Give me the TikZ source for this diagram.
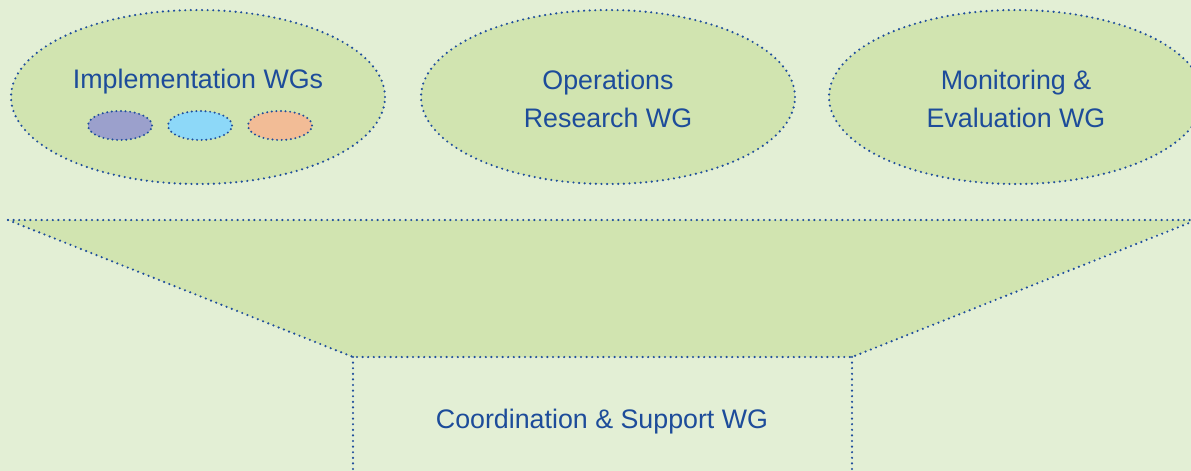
\documentclass[tikz,border=0pt]{standalone}
\usepackage{fontspec}
\setmainfont{Liberation Sans}
\usetikzlibrary{shapes.geometric}
\definecolor{bgcol}{HTML}{E3EFD5}
\definecolor{fillcol}{HTML}{D1E4B0}
\definecolor{dotcol}{HTML}{1F4E9C}
\definecolor{txtcol}{HTML}{1D4C9A}
\definecolor{wgpurple}{HTML}{9BA0CC}
\definecolor{wgblue}{HTML}{8DD8F8}
\definecolor{wgorange}{HTML}{F2BC96}
\tikzset{
  dotline/.style={draw=dotcol, line width=2.4pt, line cap=round, dash pattern=on 0pt off 5.6pt},
  groupoval/.style={ellipse, dotline, fill=fillcol, minimum width=374pt, minimum height=174pt, inner sep=0pt},
  smalloval/.style={ellipse, draw=dotcol, line width=2.2pt, line cap=round, dash pattern=on 0pt off 4.6pt, minimum width=64pt, minimum height=29pt, inner sep=0pt},
  label/.style={text=txtcol, font=\fontsize{26.8}{38}\selectfont, align=center, inner sep=0pt},
}
\begin{document}
\begin{tikzpicture}[x=1pt, y=-1pt]
  % canvas
  \fill[bgcol] (0,0) rectangle (1191,471);
  \useasboundingbox (0,0) rectangle (1191,471);

  % working group ovals
  \node[groupoval] (impl) at (198,97) {};
  \node[groupoval] (ops) at (608,97) {};
  \node[groupoval] (me) at (1016,97) {};

  \node[label, anchor=base] (impltxt) at (198,88) {Implementation WGs};
  \node[smalloval, fill=wgpurple] (wg1) at (120,125.5) {};
  \node[smalloval, fill=wgblue] (wg2) at (200,125.5) {};
  \node[smalloval, fill=wgorange] (wg3) at (280,125.5) {};

  % base anchor sits on the last line of a two-line label
  \node[label, anchor=base] (opstxt) at (608,127) {Operations\\Research WG};
  \node[label, anchor=base] (metxt) at (1016,127) {Monitoring \&\\Evaluation WG};

  % funnel and coordination box
  \coordinate (tl) at (8,220);
  \coordinate (tr) at (1194,220);
  \coordinate (trs) at (1194,221);
  \coordinate (br) at (852,357);
  \coordinate (bl) at (353,357);
  \coordinate (bbl) at (353,475);
  \coordinate (bbr) at (852,475);
  \fill[fillcol] (tl) -- (tr) -- (br) -- (bl) -- cycle;
  \draw[dotline] (tl) -- (tr);
  \draw[dotline] (tl) -- (bl) -- (br) -- (trs);
  \draw[dotline] (bl) -- (bbl);
  \draw[dotline] (br) -- (bbr);

  \node[label, anchor=base] (coord) at (602,428) {Coordination \& Support WG};
\end{tikzpicture}
\end{document}
